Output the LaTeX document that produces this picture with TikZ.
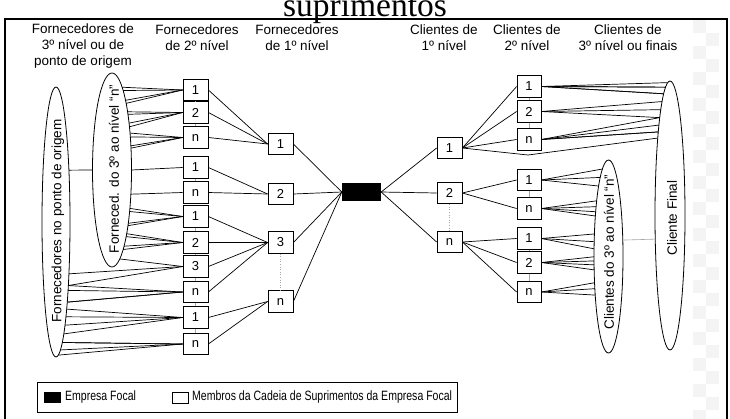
\documentclass[tikz,border=0pt]{standalone}
\usepackage{fontspec}
\newfontfamily\hv{Liberation Sans}
\newfontfamily\hvc[FakeStretch=0.78]{Liberation Sans}
\newfontfamily\tms{Liberation Serif}
\usetikzlibrary{shapes.geometric}
\newcommand\fanto[6]{%
  \foreach \yy in {#6}{%
    \pgfmathsetmacro\fdy{#3-\yy}%
    \pgfmathsetmacro\fang{mod(atan2(\fdy,(#4)*sqrt(1-(\fdy/(#5))^2))+360,360)}%
    \draw[wire] (#1) -- (#2.\fang);
  }%
}
\begin{document}
\begin{tikzpicture}[x=1pt,y=-1pt,
  box/.style={draw, line width=0.8pt, fill=white, minimum width=25pt, minimum height=21.5pt, inner sep=0pt, font=\hv\fontsize{13}{15}\selectfont},
  focal/.style={fill=black, minimum width=39pt, minimum height=18pt, inner sep=0pt},
  wire/.style={line width=0.7pt},
  tick/.style={gray!70, line width=0.6pt},
  ell/.style={draw, ellipse, line width=0.8pt, inner sep=0pt, outer sep=0pt},
  hdr/.style={align=center, font=\hv\fontsize{13.5}{16}\selectfont, inner sep=0pt},
  etxt/.style={rotate=90, font=\hv\fontsize{13.5}{16}\selectfont, inner sep=0pt},
  legtxt/.style={anchor=west, font=\hvc\fontsize{13.5}{16}\selectfont, inner sep=0pt},
  chk/.style={fill=gray!9}
]
\useasboundingbox (0,0) rectangle (730,418);
\clip (0,0) rectangle (730,418);
\fill[white] (0,0) rectangle (730,418);

% checker artefact
\foreach \y in {20,46,...,410} \fill[chk] (693,\y) rectangle ++(13,13);
\foreach \y in {33,59,...,410} \fill[chk] (706,\y) rectangle ++(13,13);

% title (cropped caption)
\node[anchor=base, font=\tms\fontsize{33.5}{36}\selectfont, inner sep=0pt] (title) at (365,16) {suprimentos};

% frame
\draw[line width=2pt] (5,19) rectangle (727,430);

% headers
\node[hdr] (h1) at (83,46) {Fornecedores de\\3º nível ou de\\ponto de origem};
\node[hdr] (h2) at (197,38) {Fornecedores\\de 2º nível};
\node[hdr] (h3) at (297,38) {Fornecedores\\de 1º nível};
\node[hdr] (h4) at (444,38) {Clientes de\\1º nível};
\node[hdr] (h5) at (527,38) {Clientes de\\2º nível};
\node[hdr] (h6) at (628,38) {Clientes de\\3º nível ou finais};

% ellipses
\node[ell, minimum width=28pt, minimum height=270pt] (on) at (56,222) {};
\node[ell, minimum width=39pt, minimum height=194pt] (in) at (112,170) {};
\node[ell, minimum width=29pt, minimum height=193pt] (cs) at (608.5,256.5) {};
\node[ell, minimum width=30pt, minimum height=269pt] (cf) at (670,215.5) {};
\node[etxt] (ont) at (58,221) {Fornecedores no ponto de origem};
\node[etxt] (int) at (114,169) {Forneced. do 3º ao nível “n”};
\node[etxt] (cst) at (609,252) {Clientes do 3º ao nível “n”};
\node[etxt] (cft) at (672,218) {Cliente Final};

% left tier-2 boxes
\node[box] (g1a) at (195.5,90) {1};
\node[box] (g1b) at (195.5,112.5) {2};
\node[box] (g1n) at (195.5,137.5) {n};
\node[box] (g2a) at (195.5,167.5) {1};
\node[box] (g2n) at (195.5,192.5) {n};
\node[box] (g3a) at (195.5,216.5) {1};
\node[box] (g3b) at (195.5,242.5) {2};
\node[box] (g3c) at (195.5,266.5) {3};
\node[box] (g3n) at (195.5,292) {n};
\node[box] (g4a) at (195.5,317.5) {1};
\node[box] (g4n) at (195.5,344) {n};

% left tier-1 boxes
\node[box] (L1) at (280.5,144) {1};
\node[box] (L2) at (280.5,194) {2};
\node[box] (L3) at (280.5,242.5) {3};
\node[box] (L4) at (280.5,301.5) {n};

% focal company
\node[focal] (F) at (361.5,192) {};

% right tier-1 boxes
\node[box] (R1) at (449.5,148) {1};
\node[box] (R2) at (449.5,193) {2};
\node[box] (R3) at (449.5,242) {n};

% right tier-2 boxes
\node[box, minimum width=24pt] (r1a) at (529,86.5) {1};
\node[box, minimum width=24pt] (r1b) at (529,111.5) {2};
\node[box, minimum width=24pt] (r1n) at (529,139.5) {n};
\node[box, minimum width=24pt] (r2a) at (529,180) {1};
\node[box, minimum width=24pt] (r2n) at (529,208.5) {n};
\node[box, minimum width=24pt] (r3a) at (529,238.5) {1};
\node[box, minimum width=24pt] (r3b) at (529,262.5) {2};
\node[box, minimum width=24pt] (r3n) at (529,292) {n};

% grey ticks between stacked boxes
\foreach \a/\b in {g1a/g1b,g1b/g1n,g2a/g2n,g3a/g3b,g3b/g3c,g3c/g3n,g3n/g4a,g4a/g4n,r1a/r1b,r1b/r1n,r2a/r2n,r3a/r3b,r3b/r3n}
  \draw[tick] (\a.south) -- (\b.north);
\draw[tick, dotted] (L3.south) -- (L4.north);
\draw[tick, dotted] (R2.south) -- (R3.north);

% tier-2 -> tier-1 (suppliers)
\foreach \b in {g1a,g1b,g1n} \draw[wire] (\b.east) -- (L1.west);
\foreach \b in {g2a,g2n} \draw[wire] (\b.east) -- (L2.west);
\foreach \b in {g3a,g3b,g3c,g3n} \draw[wire] (\b.east) -- (L3.west);
\foreach \b in {g4a,g4n} \draw[wire] (\b.east) -- (L4.west);
% tier-1 -> focal
\foreach \b in {L1,L2,L3,L4} \draw[wire] (\b.east) -- (F.west);
% focal -> customers
\foreach \b in {R1,R2,R3} \draw[wire] (F.east) -- (\b.west);
\foreach \b in {r1a,r1b,r1n} \draw[wire] (R1.east) -- (\b.west);
\foreach \b in {r2a,r2n} \draw[wire] (R2.east) -- (\b.west);
\foreach \b in {r3a,r3b,r3n} \draw[wire] (R3.east) -- (\b.west);

% fans: suppliers side
\fanto{in.west}{on}{222}{14}{135}{170}
\fanto{g1a.west}{in}{170}{19.5}{97}{86,89,99,102}
\fanto{g1b.west}{in}{170}{19.5}{97}{110,113,122,125}
\fanto{g1n.west}{in}{170}{19.5}{97}{133,136,145,148}
\fanto{g2a.west}{in}{170}{19.5}{97}{170}
\fanto{g2n.west}{in}{170}{19.5}{97}{194}
\fanto{g3a.west}{in}{170}{19.5}{97}{208,211,222,225}
\fanto{g3b.west}{in}{170}{19.5}{97}{232,235,246,249}
\fanto{g3c.west}{in}{170}{19.5}{97}{258}
\fanto{g3c.west}{on}{222}{14}{135}{272,283}
\fanto{g3n.west}{on}{222}{14}{135}{283,288,297,301}
\fanto{g4a.west}{on}{222}{14}{135}{309,313,322,327}
\fanto{g4n.west}{on}{222}{14}{135}{334,338,346,351}

% fans: customers side
\coordinate (byp) at (528,155);
\draw[wire] (R1.east) -- (byp);
\fanto{byp}{cf}{215.5}{-15}{134.5}{141}
\fanto{r1a.east}{cf}{215.5}{-15}{134.5}{85,88,92,96,100}
\fanto{r1b.east}{cf}{215.5}{-15}{134.5}{108,113,118}
\fanto{r1n.east}{cf}{215.5}{-15}{134.5}{123,128,133,137}
\fanto{r2a.east}{cs}{256.5}{-14.5}{96.5}{173,180,187}
\fanto{r2n.east}{cs}{256.5}{-14.5}{96.5}{203,207,212,217}
\fanto{r3a.east}{cs}{256.5}{-14.5}{96.5}{234,242,249}
\fanto{r3b.east}{cs}{256.5}{-14.5}{96.5}{257,261,265,270}
\fanto{r3n.east}{cs}{256.5}{-14.5}{96.5}{283,290,297}
% grey link between the two customer ellipses
\pgfmathsetmacro\ga{mod(atan2(16.5,14.5*sqrt(1-(16.5/96.5)^2))+360,360)}
\pgfmathsetmacro\gb{mod(atan2(-24.5,-15*sqrt(1-(24.5/134.5)^2))+360,360)}
\draw[tick] (cs.\ga) -- (cf.\gb);

% legend
\node[draw, line width=0.8pt, minimum width=420pt, minimum height=30pt, inner sep=0pt] (leg) at (247,397) {};
\node[fill=black, minimum width=17pt, minimum height=11pt, inner sep=0pt] (sw1) at (52.5,397.5) {};
\node[legtxt] (lt1) at (65,397.5) {Empresa Focal};
\node[draw, line width=0.8pt, minimum width=16pt, minimum height=11pt, inner sep=0pt] (sw2) at (180,397.5) {};
\node[legtxt] (lt2) at (192,397.5) {Membros da Cadeia de Suprimentos da Empresa Focal};
\end{tikzpicture}
\end{document}
